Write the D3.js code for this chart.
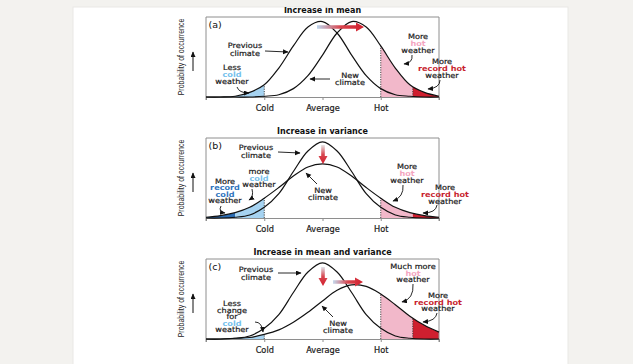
<!DOCTYPE html>
<html><head><meta charset="utf-8">
<script src="https://cdn.jsdelivr.net/npm/d3@7"></script>
<style>html,body{margin:0;padding:0;background:#f3f2ef;overflow:hidden}svg{display:block}</style>
</head><body><svg id="chart" width="633" height="364"></svg>
<script>
// ---------- data ----------
const panelTitles = ["Increase in mean", "Increase in variance", "Increase in mean and variance"];
const panelLetters = ["(a)", "(b)", "(c)"];
const tickValues = [-2, -1, 0, 1, 2];
const tickLabels = ["", "Cold", "Average", "Hot", ""];
const yAxisLabel = "Probability of occurrence";
const xSamples = [-2, -1.75, -1.5, -1.25, -1, -0.75, -0.5, -0.25, 0, 0.25, 0.5, 0.75, 1, 1.25, 1.5, 1.75, 2];
// relative probability (previous-climate peak = 1)
const previousA = [0, 0, 0.01, 0.06, 0.16, 0.38, 0.67, 0.92, 0.99, 0.84, 0.55, 0.28, 0.11, 0.03, 0.01, 0, 0];
const newA      = [0, 0, 0, 0, 0.01, 0.03, 0.11, 0.28, 0.55, 0.84, 0.99, 0.92, 0.67, 0.38, 0.16, 0.06, 0.01];
const previousB = [0, 0, 0.01, 0.04, 0.14, 0.32, 0.61, 0.88, 1, 0.88, 0.61, 0.32, 0.14, 0.04, 0.01, 0, 0];
const newB      = [0.01, 0.03, 0.07, 0.14, 0.26, 0.40, 0.55, 0.67, 0.71, 0.67, 0.55, 0.40, 0.26, 0.14, 0.07, 0.03, 0.01];
const previousC = [0, 0, 0.01, 0.04, 0.14, 0.32, 0.61, 0.88, 1, 0.88, 0.61, 0.32, 0.14, 0.04, 0.01, 0, 0];
const newC      = [0, 0, 0.01, 0.02, 0.06, 0.12, 0.22, 0.35, 0.50, 0.64, 0.71, 0.69, 0.59, 0.45, 0.30, 0.18, 0.09];
const recordColdThreshold = -1.5, coldThreshold = -1, hotThreshold = 1, recordHotThreshold = 1.55;

// ---------- colours ----------
const C = {
  lightBlue: "#a6d3f1", darkBlue: "#2b6cb3", pink: "#f2b8ca", red: "#cf1f2f",
  coldText: "#76c1ec", recordColdText: "#2f74bd", hotText: "#f4a6bf", recordHotText: "#c81f30",
  box: "#8e8e8e", text: "#1a1a1a"
};
const FONT = "'DejaVu Sans', Arial, sans-serif";
const NOTE_SIZE = 7.4, NOTE_SX = 1.1;

const svg = d3.select("#chart");
const defs = svg.append("defs");
defs.append("clipPath").attr("id", "cardClip").append("rect")
  .attr("x", 73).attr("y", 7).attr("width", 495).attr("height", 360);
defs.append("marker").attr("id", "ah").attr("markerUnits", "userSpaceOnUse")
  .attr("markerWidth", 6).attr("markerHeight", 6).attr("refX", 5).attr("refY", 2.5)
  .attr("orient", "auto").append("path").attr("d", "M0,0 L5.5,2.5 L0,5 Z").attr("fill", "#111");

svg.append("rect").attr("x", 73).attr("y", 7).attr("width", 495).attr("height", 360)
  .attr("fill", "#fff").attr("stroke", "#e9e8e5").attr("stroke-width", 1);

const root = svg.append("g").attr("clip-path", "url(#cardClip)");

const x = d3.scaleLinear().domain([-2, 2]).range([206, 439]);

const panels = [
  { prev: previousA, next: newA,
    fills: [
      { from: -2, to: coldThreshold, curve: "prev", color: C.lightBlue },
      { from: hotThreshold, to: recordHotThreshold, curve: "next", color: C.pink },
      { from: recordHotThreshold, to: 2, curve: "next", color: C.red }],
    dashes: [[coldThreshold, "prev"], [hotThreshold, "next"], [recordHotThreshold, "next"]],
    notes: [
      { x: 39, y: 31, lh: 8, lines: [["Previous", C.text], ["climate", C.text]] },
      { x: 26, y: 53, lh: 6.8, lines: [["Less", C.text], ["cold", C.coldText], ["weather", C.text]] },
      { x: 144, y: 61, lh: 7.2, lines: [["New", C.text], ["climate", C.text]] },
      { x: 212, y: 22, lh: 7, lines: [["More", C.text], ["hot", C.hotText], ["weather", C.text]] },
      { x: 236, y: 47, lh: 7, lines: [["More", C.text], ["record hot", C.recordHotText], ["weather", C.text]] }],
    arrows: [
      "M59,34 L82,35", "M31,70 Q33,76 43,76", "M124,62 L104,62",
      "M206,38 Q207,46 198,47", "M234,63 Q234,71 222,72"],
    bigArrows: [{ x1: 111, y1: 10, x2: 158, y2: 10, from: "#bcd6ee" }] },
  { prev: previousB, next: newB,
    fills: [
      { from: -2, to: recordColdThreshold, curve: "next", color: C.darkBlue },
      { from: recordColdThreshold, to: coldThreshold, curve: "next", color: C.lightBlue },
      { from: hotThreshold, to: recordHotThreshold, curve: "next", color: C.pink },
      { from: recordHotThreshold, to: 2, curve: "next", color: C.red }],
    dashes: [[coldThreshold, "next"], [hotThreshold, "next"]],
    notes: [
      { x: 50, y: 12, lh: 7.5, lines: [["Previous", C.text], ["climate", C.text]] },
      { x: 53, y: 36, lh: 6.6, lines: [["more", C.text], ["cold", C.coldText], ["weather", C.text]] },
      { x: 19, y: 46, lh: 6.4, lines: [["More", C.text], ["record", C.recordColdText], ["cold", C.recordColdText], ["weather", C.text]] },
      { x: 117, y: 55, lh: 7, lines: [["New", C.text], ["climate", C.text]] },
      { x: 201, y: 31, lh: 6.8, lines: [["More", C.text], ["hot", C.hotText], ["weather", C.text]] },
      { x: 239, y: 52, lh: 6.8, lines: [["More", C.text], ["record hot", C.recordHotText], ["weather", C.text]] }],
    arrows: [
      "M72,14 L94,15", "M46,51 Q48,59 43,62", "M15,68 Q12,74 19,75", "M111,46 L100,35",
      "M197,47 Q198,59 187,63", "M231,67 Q230,75 217,75"],
    bigArrows: [{ x1: 117, y1: 7, x2: 117, y2: 26, from: "#e6e6e6" }] },
  { prev: previousC, next: newC,
    fills: [
      { from: -2, to: coldThreshold, curve: "next", color: C.lightBlue },
      { from: hotThreshold, to: recordHotThreshold, curve: "next", color: C.pink },
      { from: recordHotThreshold, to: 2, curve: "next", color: C.red }],
    dashes: [[coldThreshold, "next"], [hotThreshold, "next"], [recordHotThreshold, "next"]],
    notes: [
      { x: 50, y: 13, lh: 8, lines: [["Previous", C.text], ["climate", C.text]] },
      { x: 26, y: 47, lh: 6.6, lines: [["Less", C.text], ["change", C.text], ["for", C.text], ["cold", C.coldText], ["weather", C.text]] },
      { x: 132, y: 67, lh: 7.2, lines: [["New", C.text], ["climate", C.text]] },
      { x: 207, y: 10, lh: 6.6, lines: [["Much more", C.text], ["hot", C.hotText], ["weather", C.text]] },
      { x: 232, y: 39, lh: 6.6, lines: [["More", C.text], ["record hot", C.recordHotText], ["weather", C.text]] }],
    arrows: [
      "M72,14 L95,14", "M49,63 Q56,63 57,73", "M127,58 L116,47",
      "M207,25 Q208,40 196,43", "M231,54 Q230,62 217,63"],
    bigArrows: [{ x1: 117, y1: 8, x2: 117, y2: 27, from: "#dfe3ea" },
                { x1: 127, y1: 23, x2: 157, y2: 23, from: "#c4daee" }] }
];

panels.forEach((p, i) => {
  const top = 17 + 121 * i, bottom = top + 80;
  const x0 = x(-2);
  const y = d3.scaleLinear().domain([0, 1.05]).range([bottom, top]);
  const g = root.append("g");
  const pts = {
    prev: xSamples.map((v, k) => [v, p.prev[k]]),
    next: xSamples.map((v, k) => [v, p.next[k]])
  };
  const line = d3.line().x(d => x(d[0])).y(d => Math.min(y(d[1]), bottom)).curve(d3.curveCatmullRom);
  const area = d3.area().x(d => x(d[0])).y0(bottom).y1(d => Math.min(y(d[1]), bottom)).curve(d3.curveCatmullRom);

  ["prev", "next"].forEach(k => {
    defs.append("clipPath").attr("id", `under-${k}-${i}`).append("path").attr("d", area(pts[k]));
  });

  p.fills.forEach(f => {
    g.append("rect").attr("x", x(f.from)).attr("y", top).attr("width", x(f.to) - x(f.from))
      .attr("height", bottom - top).attr("fill", f.color)
      .attr("clip-path", `url(#under-${f.curve}-${i})`);
  });
  p.dashes.forEach(([v, k]) => {
    g.append("line").attr("x1", x(v)).attr("x2", x(v)).attr("y1", bottom).attr("y2", top)
      .attr("stroke", "#333").attr("stroke-width", 0.9).attr("stroke-dasharray", "1.2,1.2")
      .attr("clip-path", `url(#under-${k}-${i})`);
  });

  // box
  g.append("path").attr("d", `M${x(-2)},${bottom + 3} V${top} H${x(2)} V${bottom + 3}`)
    .attr("fill", "none").attr("stroke", C.box).attr("stroke-width", 1);

  // axis
  const axis = d3.axisBottom(x).tickValues(tickValues).tickSize(3).tickSizeOuter(0).tickPadding(5.5)
    .tickFormat((d, k) => tickLabels[k]);
  const ax = g.append("g").attr("transform", `translate(0,${bottom})`).call(axis);
  ax.select(".domain").attr("stroke", C.box).attr("stroke-width", 1);
  ax.selectAll(".tick line").attr("stroke", C.box);
  ax.selectAll(".tick text").attr("font-family", FONT).attr("font-size", 8.2).attr("fill", "#1a1a1a")
    .attr("stroke", "#1a1a1a").attr("stroke-width", 0.2);

  // curves
  ["prev", "next"].forEach(k => {
    g.append("path").attr("d", line(pts[k])).attr("fill", "none").attr("stroke", "#111").attr("stroke-width", 1.2);
  });

  // title & letter
  g.append("text").attr("x", x(0)).attr("y", top - 4.5).attr("text-anchor", "middle")
    .attr("font-family", FONT).attr("font-weight", "bold").attr("font-size", 8).attr("fill", "#111")
    .text(panelTitles[i]);
  g.append("text").attr("x", x0 + 2.5).attr("y", top + 11).attr("font-family", FONT).attr("font-size", 9.5)
    .attr("fill", "#111").text(panelLetters[i]);

  // y label + arrow
  g.append("text").attr("transform", `translate(184,${top + 40}) rotate(-90) scale(0.82,1)`)
    .attr("text-anchor", "middle")
    .attr("font-family", "'Liberation Sans', Arial, sans-serif").attr("font-size", 8.5).attr("fill", "#222")
    .text(yAxisLabel);
  g.append("line").attr("x1", 193).attr("x2", 193).attr("y1", top + 54).attr("y2", top + 35)
    .attr("stroke", "#111").attr("stroke-width", 1).attr("marker-end", "url(#ah)");

  // notes
  p.notes.forEach(n => {
    n.lines.forEach((l, k) => {
      g.append("text")
        .attr("transform", `translate(${x0 + n.x},${top + n.y + k * n.lh}) scale(${NOTE_SX},1)`)
        .attr("font-family", FONT).attr("font-size", NOTE_SIZE).attr("text-anchor", "middle")
        .attr("fill", l[1]).attr("stroke", l[1]).attr("stroke-width", l[1] === C.text ? 0.2 : 0)
        .attr("font-weight", l[1] === C.text ? "normal" : "bold").text(l[0]);
    });
  });
  p.arrows.forEach(d => {
    g.append("path").attr("d", d).attr("transform", `translate(${x0},${top})`)
      .attr("fill", "none").attr("stroke", "#111").attr("stroke-width", 0.9).attr("marker-end", "url(#ah)");
  });
  // big gradient arrows
  p.bigArrows.forEach((b, k) => {
    const id = `grad-${i}-${k}`;
    const gx1 = x0 + b.x1, gy1 = top + b.y1, gx2 = x0 + b.x2, gy2 = top + b.y2;
    const len = Math.hypot(gx2 - gx1, gy2 - gy1), hl = 8, hw = 4.5, sw = 1.8;
    const grad = defs.append("linearGradient").attr("id", id).attr("gradientUnits", "userSpaceOnUse")
      .attr("x1", 0).attr("y1", 0).attr("x2", len).attr("y2", 0);
    grad.append("stop").attr("offset", 0).attr("stop-color", b.from);
    grad.append("stop").attr("offset", 0.5).attr("stop-color", "#d8464f");
    grad.append("stop").attr("offset", 1).attr("stop-color", "#d21f2d");
    const ang = Math.atan2(gy2 - gy1, gx2 - gx1) * 180 / Math.PI;
    g.append("path")
      .attr("d", `M0,${-sw} L${len - hl},${-sw} L${len - hl},${-hw} L${len},0 L${len - hl},${hw} L${len - hl},${sw} L0,${sw} Z`)
      .attr("transform", `translate(${gx1},${gy1}) rotate(${ang})`)
      .attr("fill", `url(#${id})`);
  });
});
</script></body></html>
